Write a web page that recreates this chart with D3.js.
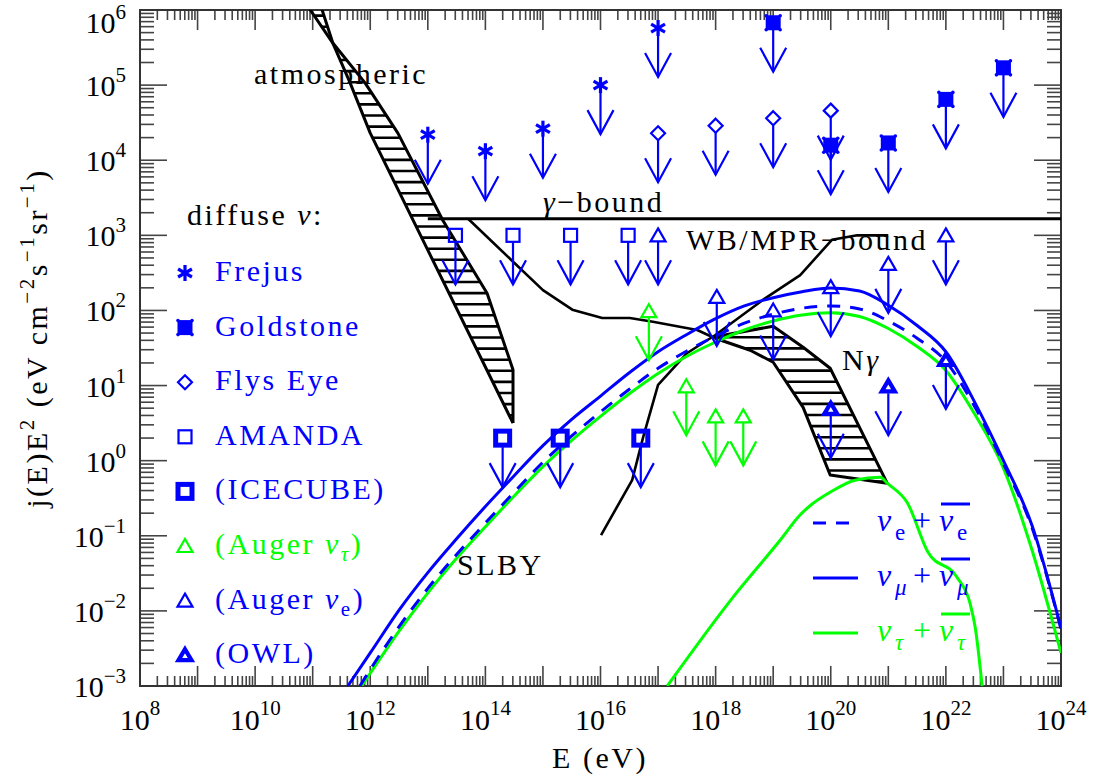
<!DOCTYPE html>
<html>
<head>
<meta charset="utf-8">
<script src="https://cdn.jsdelivr.net/npm/d3@7"></script>
<style>
body { margin: 0; background: #fff; }
svg text { font-family: "Liberation Serif", serif; }
</style>
</head>
<body>
<div id="chart"></div>
<script>
const width = 1098, height = 781;
const L = 140, R = 1061, T = 10, B = 686;
const blue = "#0000ff", green = "#00ff00";

// all values are [log10(E / eV), log10(j E^2)]
const frejus = [[13, 4.34], [14, 4.12], [15, 4.42], [16, 5.0], [17, 5.76]];
const goldstone = [[19, 5.83], [20, 4.2], [21, 4.23], [22, 4.81], [23, 5.23]];
const flysEye = [[17, 4.36], [18, 4.46], [19, 4.56], [20, 4.66]];
const amanda = [[13.48, 3.0], [14.48, 3.0], [15.48, 3.0], [16.48, 3.0]];
const icecube = [[14.3, 0.3], [15.3, 0.3], [16.7, 0.3]];
const augerTau = [[16.84, 1.99], [17.49, 0.99], [18.0, 0.59], [18.48, 0.59]];
const augerE = [[17, 3.0], [18.02, 2.18], [19, 2.0], [20, 2.31], [21, 2.62], [22, 3.0]];
const owl = [[20, 0.69], [21, 0.99], [22, 1.34]];

const atmLeft = [[10.95, 6.01], [11.35, 5.56], [11.65, 5.03], [12.0, 4.36], [14.48, 0.5]];
const atmRight = [[11.16, 6.01], [11.35, 5.56], [11.91, 5.03], [12.48, 4.36], [13.26, 3.2],
                  [14.03, 2.23], [14.48, 1.21], [14.48, 0.5]];

const gammaBound = [[13.0, 3.22], [24.0, 3.22]];
const wbFall = [[13.7, 3.22], [15.0, 2.27], [15.51, 2.01], [16.03, 1.9], [16.51, 1.9],
                [16.91, 1.85], [17.68, 1.74], [17.99, 1.63]];
const mprRise = [[16.01, -0.99], [16.55, -0.26], [16.74, 0.31], [17.0, 1.01], [17.5, 1.43],
                 [17.99, 1.67], [18.82, 2.14], [19.47, 2.47], [20.02, 2.94], [20.46, 3.0], [21.0, 3.0]];
const ngUpper = [[17.99, 1.65], [19.0, 1.79], [19.52, 1.51], [19.99, 1.23], [20.98, -0.3]];
const ngLower = [[17.99, 1.63], [18.6, 1.47], [19.0, 1.31], [19.52, 0.71], [19.99, -0.19], [20.98, -0.3]];

const numu = [[11.61, -3.0], [12, -2.56], [12.5, -1.99], [13, -1.49], [13.5, -1.04], [14, -0.61],
  [14.5, -0.2], [15, 0.2], [15.5, 0.55], [16, 0.86], [16.5, 1.17], [17, 1.45], [17.5, 1.68],
  [18, 1.89], [18.5, 2.06], [19, 2.17], [19.5, 2.25], [20, 2.3], [20.5, 2.26], [21, 2.07],
  [21.5, 1.8], [22, 1.45], [22.5, 0.78], [23, 0.0], [23.5, -0.87], [24, -2.23]];
const nue = [[11.82, -3.0], [12, -2.78], [12.5, -2.21], [13, -1.7], [13.5, -1.25], [14, -0.83],
  [14.5, -0.42], [15, -0.02], [15.5, 0.33], [16, 0.65], [16.5, 0.95], [17, 1.23], [17.5, 1.46],
  [18, 1.66], [18.5, 1.83], [19, 1.95], [19.5, 2.03], [20, 2.06], [20.5, 2.02], [21, 1.86],
  [21.5, 1.63], [22, 1.32], [22.5, 0.72], [23, -0.04], [23.5, -0.9], [24, -2.24]];
const nutau = [[11.85, -3.0], [12, -2.83], [12.5, -2.27], [13, -1.76], [13.5, -1.3], [14, -0.88],
  [14.5, -0.47], [15, -0.08], [15.5, 0.27], [16, 0.59], [16.5, 0.89], [17, 1.16], [17.5, 1.39],
  [18, 1.58], [18.5, 1.74], [19, 1.86], [19.5, 1.94], [20, 1.97], [20.5, 1.92], [21, 1.76],
  [21.5, 1.52], [22, 1.2], [22.5, 0.62], [23, -0.1], [23.5, -1.2], [24, -2.56]];
const nutau2 = [[17.16, -3.0], [18.3, -1.82], [19.12, -1.06], [19.47, -0.72], [19.64, -0.6],
  [19.99, -0.42], [20.42, -0.26], [20.86, -0.22], [20.98, -0.3], [21.33, -0.56], [21.69, -1.22],
  [22.19, -1.55], [22.42, -1.9], [22.51, -2.22], [22.63, -3.0]];

const xLabelExps = [8, 10, 12, 14, 16, 18, 20, 22, 24];
const yLabelExps = [-3, -2, -1, 0, 1, 2, 3, 4, 5, 6];
const legendNames = ["Frejus", "Goldstone", "Flys Eye", "AMANDA", "(ICECUBE)", "(Auger ", "(Auger ", "(OWL)"];

const x = d3.scaleLog().domain([1e8, 1e24]).range([L, R]);
const y = d3.scaleLog().domain([1e-3, 1e6]).range([B, T]);
const px = d => x(Math.pow(10, d[0]));
const py = d => y(Math.pow(10, d[1]));
const smooth = d3.line().x(px).y(py).curve(d3.curveMonotoneX);
const straight = d3.line().x(px).y(py);

const svg = d3.select("#chart").append("svg")
    .attr("width", width)
    .attr("height", height);
const defs = svg.append("defs");
defs.append("clipPath").attr("id", "plot")
  .append("rect").attr("x", L).attr("y", T).attr("width", R - L).attr("height", B - T);

// ticks
const ax = svg.append("g").attr("stroke", "#444").attr("stroke-width", 1.6);
for (let d = 8; d < 24; d++) {
  for (let k = 1; k <= 9; k++) {
    const xx = x(k * Math.pow(10, d));
    const len = k == 1 ? 20 : 10;
    ax.append("line").attr("x1", xx).attr("x2", xx).attr("y1", B).attr("y2", B - len);
    ax.append("line").attr("x1", xx).attr("x2", xx).attr("y1", T).attr("y2", T + len);
  }
}
for (let d = -3; d < 6; d++) {
  for (let k = 1; k <= 9; k++) {
    const yy = y(k * Math.pow(10, d));
    const len = k == 1 ? 27 : 14;
    ax.append("line").attr("x1", L).attr("x2", L + len).attr("y1", yy).attr("y2", yy);
    ax.append("line").attr("x1", R).attr("x2", R - len).attr("y1", yy).attr("y2", yy);
  }
}
svg.append("rect").attr("x", L).attr("y", T).attr("width", R - L).attr("height", B - T)
  .attr("fill", "none").attr("stroke", "#333").attr("stroke-width", 2);

// tick labels
xLabelExps.forEach(e => {
  const t = svg.append("text").attr("x", x(Math.pow(10, e))).attr("y", 730)
    .attr("text-anchor", "middle").style("font-size", "30px");
  t.append("tspan").text("10");
  t.append("tspan").attr("dy", -15).style("font-size", "21px").text(e);
});
yLabelExps.forEach(e => {
  const ty = y(Math.pow(10, e));
  const t = svg.append("text").attr("x", 126).attr("y", Math.max(ty + 11, 33))
    .attr("text-anchor", "end").style("font-size", "30px");
  t.append("tspan").text("10");
  t.append("tspan").attr("dy", -14).style("font-size", "21px").text(e < 0 ? "\u2212" + (-e) : e);
});

// axis titles
svg.append("text").attr("x", 600).attr("y", 768).attr("text-anchor", "middle")
  .style("font-size", "30px").style("letter-spacing", "2.5px").text("E (eV)");
const yt = svg.append("text").attr("transform", "translate(47,338) rotate(-90)")
  .attr("text-anchor", "middle").style("font-size", "30px").style("letter-spacing", "2.5px");
yt.append("tspan").text("j(E)E");
yt.append("tspan").attr("dy", -13).style("font-size", "21px").text("2");
yt.append("tspan").attr("dy", 13).text(" (eV cm");
yt.append("tspan").attr("dy", -13).style("font-size", "21px").text("\u22122");
yt.append("tspan").attr("dy", 13).text("s");
yt.append("tspan").attr("dy", -13).style("font-size", "21px").text("\u22121");
yt.append("tspan").attr("dy", 13).text("sr");
yt.append("tspan").attr("dy", -13).style("font-size", "21px").text("\u22121");
yt.append("tspan").attr("dy", 13).text(")");

const plot = svg.append("g").attr("clip-path", "url(#plot)");

// hatched bands
function hatched(leftPts, rightPts, y0, id) {
  const poly = leftPts.concat(rightPts.slice().reverse()).map(d => [px(d), py(d)]);
  defs.append("clipPath").attr("id", id)
    .append("path").attr("d", "M" + poly.join("L") + "Z");
  const ys = poly.map(p => p[1]), xs = poly.map(p => p[0]);
  const hg = plot.append("g").attr("clip-path", "url(#" + id + ")")
    .attr("stroke", "#000").attr("stroke-width", 2.6);
  for (let yy = y0; yy <= d3.max(ys); yy += 11.1) {
    if (yy < d3.min(ys)) continue;
    hg.append("line").attr("x1", d3.min(xs) - 2).attr("x2", d3.max(xs) + 2)
      .attr("y1", yy).attr("y2", yy);
  }
  [leftPts, rightPts].forEach(pts => {
    plot.append("path").attr("d", straight(pts)).attr("fill", "none")
      .attr("stroke", "#000").attr("stroke-width", 3).attr("stroke-linejoin", "round");
  });
}
hatched(atmLeft, atmRight, 4.5, "atm");
hatched(ngUpper, ngLower, 337.3, "ng");

// black bounds
plot.append("path").attr("d", straight(gammaBound)).attr("fill", "none")
  .attr("stroke", "#000").attr("stroke-width", 3);
[wbFall, mprRise].forEach(pts => {
  plot.append("path").attr("d", straight(pts)).attr("fill", "none")
    .attr("stroke", "#000").attr("stroke-width", 2.6).attr("stroke-linejoin", "round");
});

// SLBY fluxes
plot.append("path").attr("d", smooth(nutau)).attr("fill", "none").attr("stroke", green).attr("stroke-width", 3);
plot.append("path").attr("d", smooth(nutau2)).attr("fill", "none").attr("stroke", green).attr("stroke-width", 3);
plot.append("path").attr("d", smooth(nue)).attr("fill", "none").attr("stroke", blue).attr("stroke-width", 3)
  .attr("stroke-dasharray", "13,10");
plot.append("path").attr("d", smooth(numu)).attr("fill", "none").attr("stroke", blue).attr("stroke-width", 3);

// markers
function marker(g, type, cx, cy, color) {
  const m = g.append("g").attr("transform", "translate(" + cx + "," + cy + ")")
    .attr("stroke", color).attr("fill", "none");
  if (type == "star") {
    [90, 30, 150].forEach(a => {
      const r = 8, c = Math.cos(a * Math.PI / 180) * r, s = Math.sin(a * Math.PI / 180) * r;
      m.append("line").attr("x1", -c).attr("y1", -s).attr("x2", c).attr("y2", s).attr("stroke-width", 3.2);
    });
  } else if (type == "gold") {
    m.append("rect").attr("x", -6).attr("y", -6).attr("width", 12).attr("height", 12)
      .attr("fill", color).attr("stroke-width", 3);
    [[-7, -7], [7, -7], [-7, 7], [7, 7]].forEach(p =>
      m.append("circle").attr("cx", p[0]).attr("cy", p[1]).attr("r", 1.8).attr("fill", color).attr("stroke", "none"));
  } else if (type == "diamond") {
    m.append("path").attr("d", "M0,-7L7,0L0,7L-7,0Z").attr("stroke-width", 2.2);
  } else if (type == "square") {
    m.append("rect").attr("x", -6.5).attr("y", -6.5).attr("width", 13).attr("height", 13).attr("stroke-width", 2.2);
  } else if (type == "squareBold") {
    m.append("rect").attr("x", -7).attr("y", -7).attr("width", 14).attr("height", 14).attr("stroke-width", 5);
  } else if (type == "tri") {
    m.append("path").attr("d", "M0,-7L7.5,6L-7.5,6Z").attr("stroke-width", 2.2).attr("stroke-linejoin", "miter");
  } else if (type == "triBold") {
    m.append("path").attr("d", "M0,-6L6.5,5L-6.5,5Z").attr("stroke-width", 4.2);
  }
}
const startOff = { star: 0, gold: 0, diamond: 7, square: 7, squareBold: 9, tri: 6, triBold: 7 };
function limits(data, type, color) {
  const g = svg.append("g");
  data.forEach(d => {
    const cx = px(d), cy = py(d), tip = cy + 49;
    g.append("line").attr("x1", cx).attr("x2", cx).attr("y1", cy + startOff[type]).attr("y2", tip)
      .attr("stroke", color).attr("stroke-width", 2.2);
    g.append("polyline").attr("points", (cx - 13) + "," + (tip - 24) + " " + cx + "," + tip + " " + (cx + 13) + "," + (tip - 24))
      .attr("fill", "none").attr("stroke", color).attr("stroke-width", 2.2);
    marker(g, type, cx, cy, color);
  });
}
limits(frejus, "star", blue);
limits(goldstone, "gold", blue);
limits(flysEye, "diamond", blue);
limits(amanda, "square", blue);
limits(icecube, "squareBold", blue);
limits(augerTau, "tri", green);
limits(augerE, "tri", blue);
limits(owl, "triBold", blue);

// labels in the plot
function label(txt, lx, ly) {
  return svg.append("text").attr("x", lx).attr("y", ly)
    .style("font-size", "30px").style("letter-spacing", "2.5px").text(txt);
}
label("atmospheric", 254, 84);
const gb = label("", 543, 212);
gb.append("tspan").style("font-style", "italic").text("\u03b3");
gb.append("tspan").text("\u2212bound");
label("WB/MPR\u2212bound", 686, 250);
const ng = label("N", 842, 370);
ng.append("tspan").style("font-style", "italic").text("\u03b3");
label("SLBY", 457, 575);

// left legend
const dif = label("diffuse ", 187, 225);
dif.append("tspan").style("font-style", "italic").text("\u03bd");
dif.append("tspan").text(":");
const legTypes = ["star", "gold", "diamond", "square", "squareBold", "tri", "tri", "triBold"];
const legColors = [blue, blue, blue, blue, blue, green, blue, blue];
const legSubs = [null, null, null, null, null, "\u03c4", "e", null];
legendNames.forEach((name, i) => {
  const ly = 273 + i * 54.6;
  marker(svg, legTypes[i], 185, ly, legColors[i]);
  const t = label(name, 215, ly + 8).attr("fill", legColors[i]);
  if (legSubs[i]) {
    t.append("tspan").style("font-style", "italic").text("\u03bd");
    t.append("tspan").attr("dy", 7).style("font-size", "21px")
      .style("font-style", legSubs[i] == "e" ? "normal" : "italic").text(legSubs[i]);
    t.append("tspan").attr("dy", -7).text(")");
  }
});

// right legend
const rows = [
  { sub: "e", color: blue, dash: "13,10", len: 37, italicSub: false },
  { sub: "\u03bc", color: blue, dash: null, len: 45, italicSub: true },
  { sub: "\u03c4", color: green, dash: null, len: 45, italicSub: true }
];
rows.forEach((r, i) => {
  const ly = 523 + i * 55;
  svg.append("line").attr("x1", 813).attr("x2", 813 + r.len).attr("y1", ly).attr("y2", ly)
    .attr("stroke", r.color).attr("stroke-width", 3).attr("stroke-dasharray", r.dash);
  const base = ly + 8;
  const t = svg.append("text").attr("y", base).attr("fill", r.color).style("font-size", "32px");
  t.append("tspan").attr("x", 877).style("font-style", "italic").text("\u03bd");
  t.append("tspan").attr("x", 895).attr("dy", 9).style("font-size", "23px")
    .style("font-style", r.italicSub ? "italic" : "normal").text(r.sub);
  t.append("tspan").attr("x", 913).attr("dy", -9).text("+");
  t.append("tspan").attr("x", 939).style("font-style", "italic").text("\u03bd");
  t.append("tspan").attr("x", 957).attr("dy", 9).style("font-size", "23px")
    .style("font-style", r.italicSub ? "italic" : "normal").text(r.sub);
  svg.append("line").attr("x1", 941).attr("x2", 970).attr("y1", base - 27).attr("y2", base - 27)
    .attr("stroke", r.color).attr("stroke-width", 3);
});
</script>
</body>
</html>
